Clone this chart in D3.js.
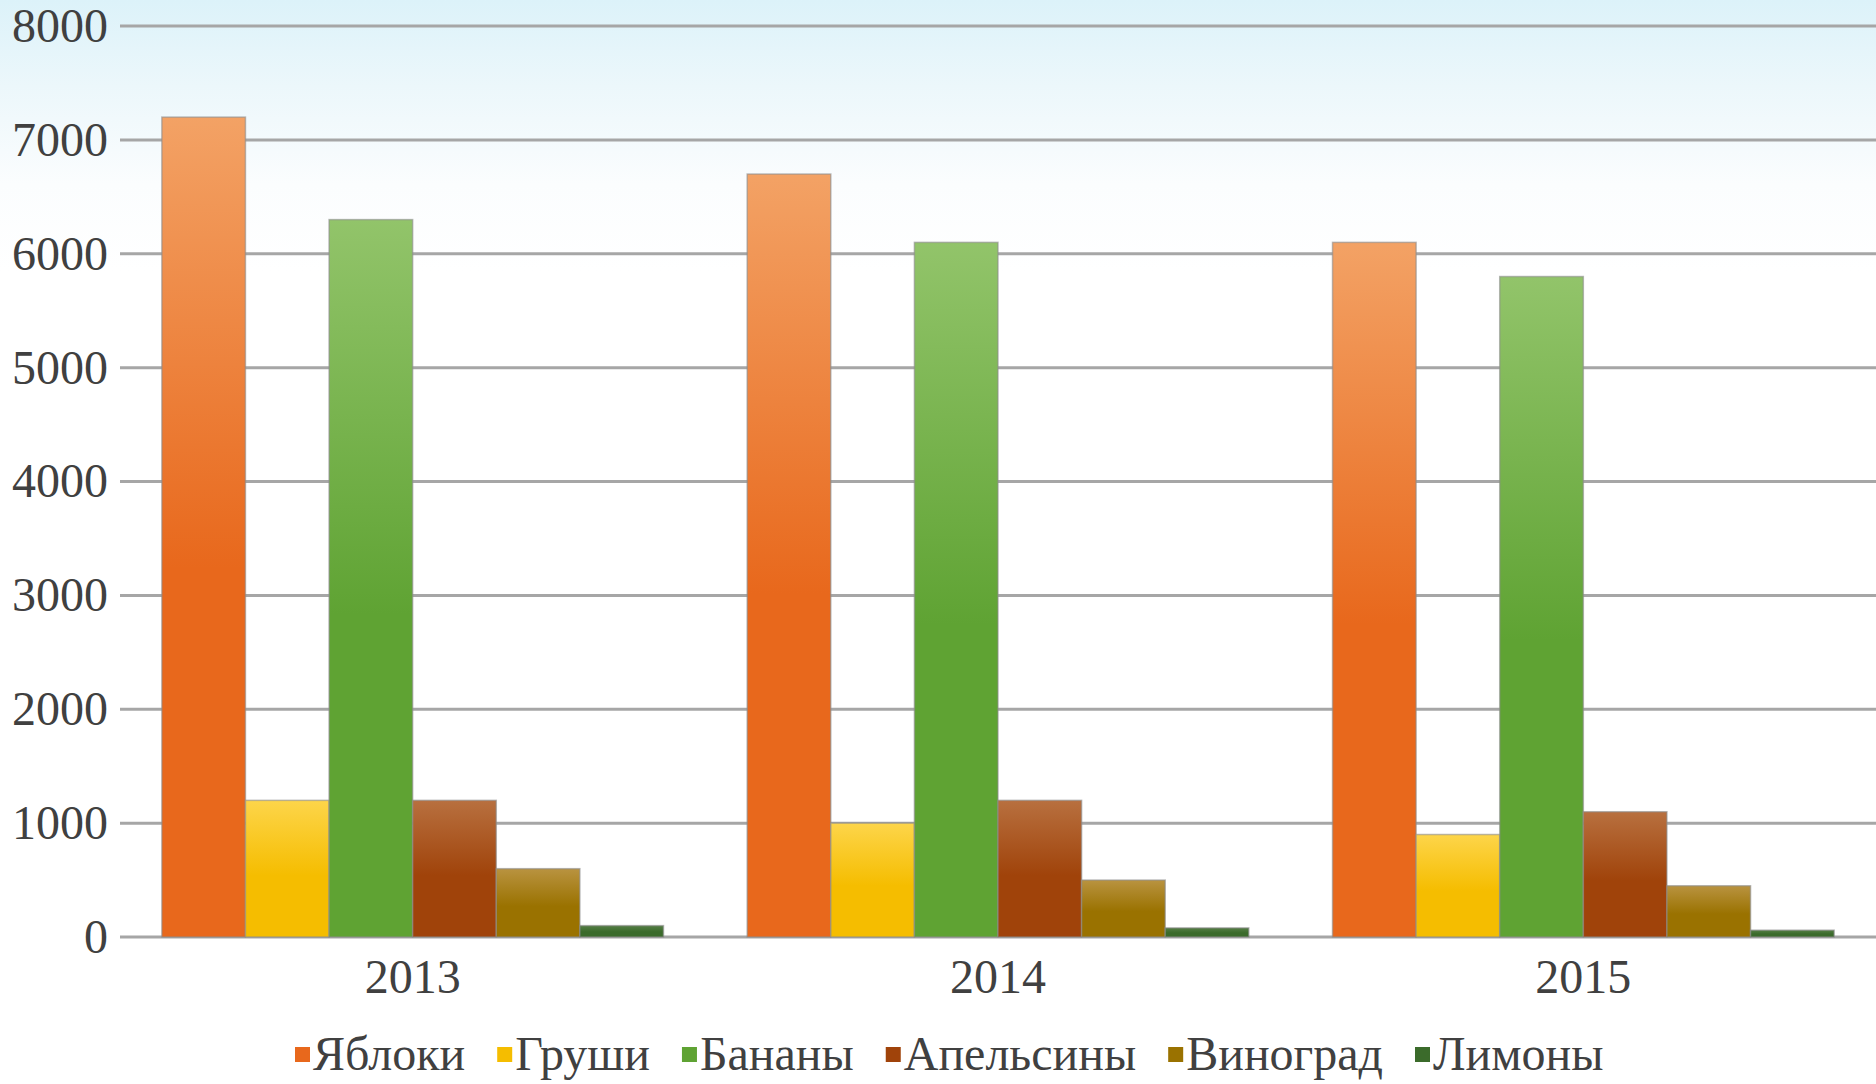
<html>
    <head>
        <style>
            body { margin: 0; background: #ffffff; }
        </style>
        <script src="https://d3js.org/d3.v7.min.js"></script>
    </head>
    <body>
        <svg id="chart" width="1876" height="1084"></svg>
        <script>
            // data
            const years = ['2013', '2014', '2015'];
            const fruits = ['Яблоки', 'Груши', 'Бананы', 'Апельсины', 'Виноград', 'Лимоны'];
            const apples = [7200, 6700, 6100];
            const pears = [1200, 1000, 900];
            const bananas = [6300, 6100, 5800];
            const oranges = [1200, 1200, 1100];
            const grapes = [600, 500, 450];
            const lemons = [100, 80, 60];
            const yTicks = [0, 1000, 2000, 3000, 4000, 5000, 6000, 7000, 8000];

            // light / dark ends of each bar gradient
            const colorsTop = ['#f3a265', '#fdd54a', '#92c46a', '#b8703f', '#b99340', '#557e45'];
            const colorsBottom = ['#e8681c', '#f5bd00', '#5fa333', '#a0430a', '#9a7200', '#3b6b2b'];

            const series = [apples, pears, bananas, oranges, grapes, lemons];

            const FONT = "'Liberation Serif', 'DejaVu Serif', serif";
            const svg = d3.select('#chart');
            const W = 1876, H = 1084;
            const plotLeft = 120, plotRight = 1876, plotTop = 26, plotBottom = 937;

            const defs = svg.append('defs');

            // pale blue wash at the top of the slide
            const bg = defs.append('linearGradient').attr('id', 'bg')
                .attr('x1', 0).attr('y1', 0).attr('x2', 0).attr('y2', 1);
            bg.append('stop').attr('offset', '0%').attr('stop-color', '#dcf2f9');
            bg.append('stop').attr('offset', '8%').attr('stop-color', '#ecf7fb');
            bg.append('stop').attr('offset', '17%').attr('stop-color', '#fbfdfe');
            bg.append('stop').attr('offset', '25%').attr('stop-color', '#ffffff');
            svg.append('rect').attr('width', W).attr('height', H).attr('fill', 'url(#bg)');

            fruits.forEach(function(f, i) {
                const g = defs.append('linearGradient').attr('id', 'grad' + i)
                    .attr('x1', 0).attr('y1', 0).attr('x2', 0).attr('y2', 1);
                g.append('stop').attr('offset', '0%').attr('stop-color', colorsTop[i]);
                g.append('stop').attr('offset', '55%').attr('stop-color', colorsBottom[i]);
                g.append('stop').attr('offset', '100%').attr('stop-color', colorsBottom[i]);
            });

            const x = d3.scaleBand().domain(years).range([plotLeft, plotRight]).paddingInner(0.143).paddingOuter(0.0715);
            const xInner = d3.scaleBand().domain(fruits).range([0, x.bandwidth()]);
            const y = d3.scaleLinear().domain([0, 8000]).range([plotBottom, plotTop]);

            // gridlines
            svg.append('g')
                .selectAll('line')
                .data(yTicks)
                .join('line')
                .attr('x1', plotLeft)
                .attr('x2', plotRight)
                .attr('y1', d => y(d))
                .attr('y2', d => y(d))
                .style('stroke', '#a6a6a6')
                .style('stroke-width', 3);

            // y axis labels
            const yAxis = svg.append('g')
                .attr('transform', 'translate(108,0)')
                .call(d3.axisLeft(y).tickValues(yTicks).tickFormat(d3.format('d')).tickSize(0).tickPadding(0));
            yAxis.select('.domain').remove();
            yAxis.selectAll('text')
                .style('font-size', '48px')
                .style('font-family', FONT)
                .attr('fill', '#404040');

            // bars
            const groups = svg.append('g')
                .selectAll('g')
                .data(years)
                .join('g')
                .attr('transform', d => 'translate(' + x(d) + ',0)');

            groups.selectAll('rect')
                .data((yr, yi) => fruits.map((f, fi) => ({ fruit: f, i: fi, value: series[fi][yi] })))
                .join('rect')
                .attr('x', d => xInner(d.fruit))
                .attr('y', d => y(d.value))
                .attr('width', xInner.bandwidth())
                .attr('height', d => plotBottom - y(d.value))
                .attr('fill', d => 'url(#grad' + d.i + ')')
                .style('stroke', '#8c8c8c')
                .style('stroke-opacity', 0.6)
                .style('stroke-width', 1.5);

            // x axis labels
            const xAxis = svg.append('g')
                .attr('transform', 'translate(0,' + plotBottom + ')')
                .call(d3.axisBottom(x).tickSize(0).tickPadding(22));
            xAxis.select('.domain').remove();
            xAxis.selectAll('text')
                .style('font-size', '48px')
                .style('font-family', FONT)
                .attr('fill', '#404040');

            // legend
            const legend = svg.append('g').attr('transform', 'translate(0,1070)');
            let lx = 295;
            fruits.forEach(function(f, i) {
                legend.append('rect')
                    .attr('x', lx)
                    .attr('y', -23)
                    .attr('width', 15)
                    .attr('height', 15)
                    .attr('fill', colorsBottom[i]);
                const t = legend.append('text')
                    .attr('x', lx + 18)
                    .attr('y', 0)
                    .style('font-size', '48px')
                    .style('font-family', FONT)
                    .attr('fill', '#404040')
                    .text(f);
                lx += 18 + t.node().getComputedTextLength() + 32;
            });
        </script>
    </body>
</html>
